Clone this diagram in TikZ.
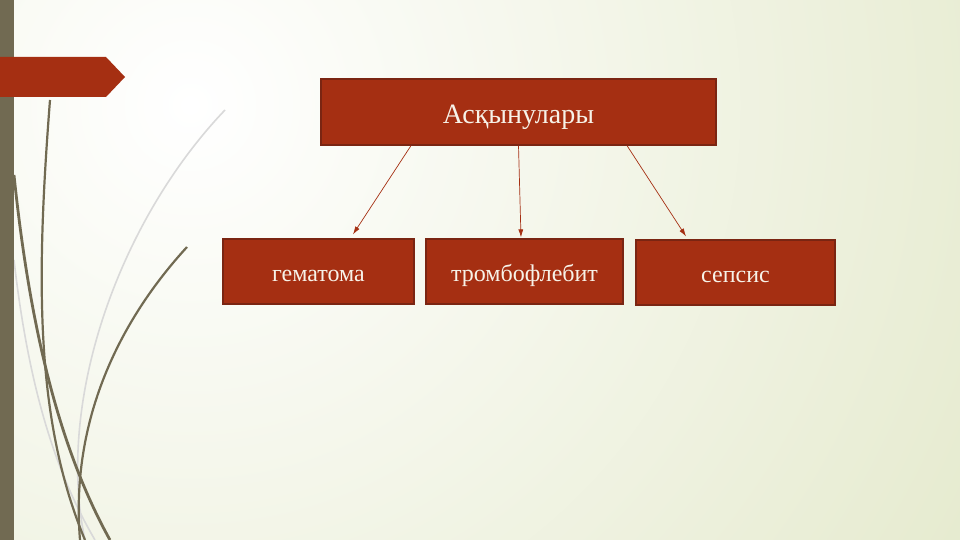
\documentclass[tikz,border=0pt]{standalone}
\usepackage{fontspec}
\setmainfont{Liberation Serif}
\usepackage{tikz}
\usetikzlibrary{arrows.meta}
\definecolor{boxred}{HTML}{A52F12}
\definecolor{boxline}{HTML}{7A2512}
\definecolor{bggreen}{HTML}{E0E6C4}
\definecolor{barolive}{HTML}{716A52}
\definecolor{textcream}{HTML}{F7F2E8}

\begin{document}
\begin{tikzpicture}[x=1pt, y=-1pt,
      box/.style={draw=boxline, line width=1.2pt, fill=boxred, text=textcream,
                  inner sep=0pt, text depth=0pt, text height=19.5pt,
                  font=\fontsize{24}{28}\selectfont},
      arr/.style={draw=boxred, line width=0.7pt, -{Latex[length=8pt,width=5pt]}},
      stem/.style={draw=barolive, line width=2.2pt},
      stemlight/.style={draw=gray!30, line width=1.6pt}]
    % background
    \useasboundingbox (0,0) rectangle (960,540);
    \fill[bggreen] (0,0) rectangle (960,540);
    \begin{scope}
        \clip (0,0) rectangle (960,540);
        \shade[inner color=white, outer color=bggreen] (190,105) circle (1100);
    \end{scope}
    % left decoration
    \draw[stemlight] (225,110) .. controls (120,220) and (55,400) .. (85,540);
    \draw[stemlight] (14,260) .. controls (30,400) and (60,480) .. (95,540);
    \draw[stem] (50,100) .. controls (36,280) and (35,420) .. (85,540);
    \draw[stem, line width=2.8pt] (14,175) .. controls (30,330) and (60,450) .. (110,540);
    \draw[stem] (187,247) .. controls (120,320) and (70,420) .. (80,540);
    \fill[barolive] (0,0) rectangle (14,540);
    \fill[boxred] (0,57) -- (106,57) -- (125,77) -- (106,97) -- (0,97) -- cycle;

    % boxes
    \node[box, minimum width=395pt, minimum height=66pt, text height=23pt,
          font=\fontsize{28}{32}\selectfont] (top) at (518.5,112) {Асқынулары};
    \node[box, minimum width=191pt, minimum height=65pt] (gem) at (318.5,271.5) {гематома};
    \node[box, minimum width=197pt, minimum height=65pt] (trom) at (524.5,271.5) {тромбофлебит};
    \node[box, minimum width=199pt, minimum height=65pt] (seps) at (735.5,272.5) {сепсис};

    % arrows
    \draw[arr] ([xshift=-107.5pt]top.south) -- ([xshift=34.5pt, yshift=4pt]gem.north);
    \draw[arr] (top.south) -- ([xshift=-3.5pt, yshift=1pt]trom.north);
    \draw[arr] ([xshift=108.5pt]top.south) -- ([xshift=-49.5pt, yshift=3pt]seps.north);
\end{tikzpicture}
\end{document}
